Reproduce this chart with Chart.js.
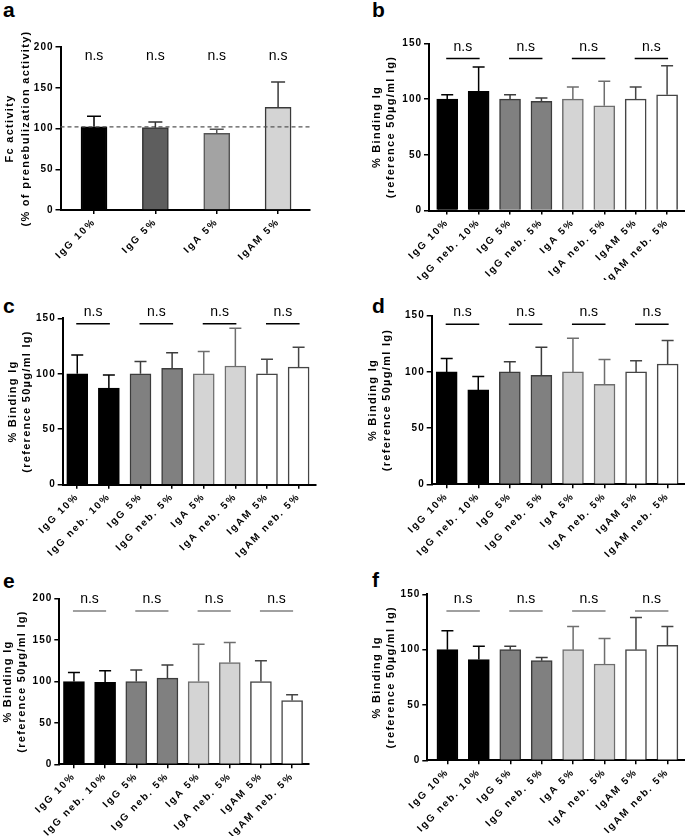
<!DOCTYPE html>
<html>
<head>
<meta charset="utf-8">
<script src="https://cdn.jsdelivr.net/npm/chart.js@4.4.1/dist/chart.umd.min.js"></script>
<style>
html, body { margin: 0; padding: 0; background: #fff; }
#page { position: relative; width: 685px; height: 836px; overflow: hidden; background: #fff; }
#page canvas { position: absolute; }
.lbl { position: absolute; font: bold 21px Arial, "Liberation Sans", sans-serif; line-height: 21px; color: #000; }
</style>
</head>
<body>
<div id="page">
  <div class="lbl" style="left:3px;top:-1px">a</div>
  <div class="lbl" style="left:372px;top:-1px">b</div>
  <div class="lbl" style="left:3px;top:295px">c</div>
  <div class="lbl" style="left:372px;top:295px">d</div>
  <div class="lbl" style="left:3px;top:570px">e</div>
  <div class="lbl" style="left:372px;top:569px">f</div>
</div>
<script>
// ---------------- DATA ----------------
const categoriesA = ['IgG 10%', 'IgG 5%', 'IgA 5%', 'IgAM 5%'];
const fcActivity = [102, 101, 94, 126];
const fcActivitySD = [13, 7, 5, 31];
const fcReference = 102;

const categoriesNeb = ['IgG 10%', 'IgG neb. 10%', 'IgG 5%', 'IgG neb. 5%',
                       'IgA 5%', 'IgA neb. 5%', 'IgAM 5%', 'IgAM neb. 5%'];
const bindingB = [100, 107, 100, 98, 100, 94, 100, 104];
const bindingBSD = [4, 22, 4, 3, 11, 22, 11, 26];
const bindingC = [100, 87, 100, 105, 100, 107, 100, 106];
const bindingCSD = [17, 12, 11, 14, 20, 34, 13, 18];
const bindingD = [100, 84, 100, 97, 100, 89, 100, 107];
const bindingDSD = [12, 12, 9, 25, 30, 22, 10, 21];
const bindingE = [100, 99, 100, 104, 100, 123, 100, 77];
const bindingESD = [11, 14, 14, 16, 45, 24, 25, 7];
const bindingF = [100, 91, 100, 90, 100, 87, 100, 104];
const bindingFSD = [17, 12, 3, 3, 21, 23, 29, 17];

const ticks150 = [0, 50, 100, 150];
const ticks200 = [0, 50, 100, 150, 200];
const yTitleA = ['Fc activity', '(% of prenebulization activity)'];
const yTitleBinding = ['% Binding Ig', '(reference 50µg/ml Ig)'];
const signifLabel = 'n.s';

// ---------------- STYLE ----------------
const FONT = 'Arial, "Liberation Sans", Helvetica, sans-serif';
const fillA = ['#000000', '#5e5e5e', '#a3a3a3', '#d4d4d4'];
const edgeA = ['#000000', '#333333', '#555555', '#3a3a3a'];
const fillNeb = ['#000000', '#000000', '#808080', '#808080', '#d4d4d4', '#d4d4d4', '#ffffff', '#ffffff'];
const edgeNeb = ['#000000', '#000000', '#3c3c3c', '#3c3c3c', '#6e6e6e', '#6e6e6e', '#454545', '#454545'];
const pairs4 = [[0], [1], [2], [3]];
const pairs8 = [[0, 1], [2, 3], [4, 5], [6, 7]];

const panels = [
  { id: 'a', box: [0, 0, 340, 280], axisX: 60.5, top: 47, bottom: 210, right: 310, xMin: -0.546, xMax: 3.52,
    yMax: 200, yTicks: ticks200, cats: categoriesA, values: fcActivity, sd: fcActivitySD, fill: fillA, edge: edgeA,
    barW: 26, cap: 14, title: yTitleA, titlePad: 2, titleLH: 1.45, nsLevel: 174, pairs: pairs4, bracketColor: null, refLine: fcReference },
  { id: 'b', box: [342, 0, 343, 280], axisX: 429, top: 43.5, bottom: 210.5, right: 685, xMin: -0.58, xMax: 7.57,
    yMax: 150, yTicks: ticks150, cats: categoriesNeb, values: bindingB, sd: bindingBSD, fill: fillNeb, edge: edgeNeb,
    barW: 21, cap: 12, title: yTitleBinding, titlePad: 28, titleLH: 1.3, nsLevel: 136.5, pairs: pairs8, bracketColor: '#000' },
  { id: 'c', box: [0, 280, 340, 280], axisX: 62.7, top: 318.3, bottom: 484.7, right: 316, xMin: -0.46, xMax: 7.55,
    yMax: 150, yTicks: ticks150, cats: categoriesNeb, values: bindingC, sd: bindingCSD, fill: fillNeb, edge: edgeNeb,
    barW: 21, cap: 12, title: yTitleBinding, titlePad: 6, titleLH: 1.3, nsLevel: 145, pairs: pairs8, bracketColor: '#000' },
  { id: 'd', box: [342, 280, 343, 280], axisX: 431.7, top: 315.7, bottom: 484.3, right: 685, xMin: -0.475, xMax: 7.55,
    yMax: 150, yTicks: ticks150, cats: categoriesNeb, values: bindingD, sd: bindingDSD, fill: fillNeb, edge: edgeNeb,
    barW: 21, cap: 12, title: yTitleBinding, titlePad: 24, titleLH: 1.3, nsLevel: 142.3, pairs: pairs8, bracketColor: '#000' },
  { id: 'e', box: [0, 560, 340, 276], axisX: 59.3, top: 598.7, bottom: 764.3, right: 308.3, xMin: -0.47, xMax: 7.52,
    yMax: 200, yTicks: ticks200, cats: categoriesNeb, values: bindingE, sd: bindingESD, fill: fillNeb, edge: edgeNeb,
    barW: 21, cap: 12, title: yTitleBinding, titlePad: 1, titleLH: 1.3, nsLevel: 185, pairs: pairs8, bracketColor: '#808080' },
  { id: 'f', box: [342, 560, 343, 276], axisX: 427.3, top: 594.3, bottom: 760.3, right: 685, xMin: -0.64, xMax: 7.56,
    yMax: 150, yTicks: ticks150, cats: categoriesNeb, values: bindingF, sd: bindingFSD, fill: fillNeb, edge: edgeNeb,
    barW: 21, cap: 12, title: yTitleBinding, titlePad: 28, titleLH: 1.3, nsLevel: 135, pairs: pairs8, bracketColor: '#808080' }
];

// letter spacing for axis texts (Prism-like spaced bold labels)
const spacingPlugin = {
  id: 'spacing',
  afterLayout(chart) {
    Object.values(chart.scales).forEach(s => {
      if (s._lsPatched) return;
      s._lsPatched = true;
      const dl = s.drawLabels.bind(s), dt = s.drawTitle.bind(s);
      const ls = s.axis === 'x' ? '1.8px' : '1px';
      s.drawLabels = (a) => { const c = chart.ctx; c.save(); c.letterSpacing = ls; dl(a); c.restore(); };
      s.drawTitle = (a) => { const c = chart.ctx; c.save(); c.letterSpacing = '1.3px'; dt(a); c.restore(); };
    });
  }
};

function extrasPlugin(p) {
  return {
    id: 'extras',
    afterDatasetsDraw(chart) {
      const ctx = chart.ctx, ys = chart.scales.y, ca = chart.chartArea;
      const bars = chart.getDatasetMeta(0).data;
      ctx.save();
      if (p.refLine != null) {
        const ry = ys.getPixelForValue(p.refLine);
        ctx.strokeStyle = '#555';
        ctx.lineWidth = 1.2;
        ctx.setLineDash([4, 3]);
        ctx.beginPath(); ctx.moveTo(ca.left, ry); ctx.lineTo(ca.right, ry); ctx.stroke();
        ctx.setLineDash([]);
      }
      bars.forEach((b, i) => {
        const topPx = ys.getPixelForValue(p.values[i] + p.sd[i]);
        ctx.strokeStyle = p.edge[i];
        ctx.lineWidth = 1.5;
        ctx.beginPath();
        ctx.moveTo(b.x, b.y); ctx.lineTo(b.x, topPx);
        ctx.moveTo(b.x - p.cap / 2, topPx); ctx.lineTo(b.x + p.cap / 2, topPx);
        ctx.stroke();
      });
      const ly = ys.getPixelForValue(p.nsLevel);
      ctx.font = '14px ' + FONT;
      ctx.fillStyle = '#000';
      ctx.textAlign = 'center';
      ctx.textBaseline = 'alphabetic';
      p.pairs.forEach(pr => {
        const x0 = bars[pr[0]].x, x1 = bars[pr[pr.length - 1]].x;
        if (pr.length > 1 && p.bracketColor) {
          ctx.strokeStyle = p.bracketColor;
          ctx.lineWidth = 1.5;
          ctx.beginPath(); ctx.moveTo(x0 - 1, ly); ctx.lineTo(x1 + 1, ly); ctx.stroke();
        }
        ctx.fillText(signifLabel, (x0 + x1) / 2, ly - 8);
      });
      ctx.restore();
    }
  };
}

const page = document.getElementById('page');
function makeChart(p) {
  const [L, T, W, H] = p.box;
  const cv = document.createElement('canvas');
  cv.width = W; cv.height = H;
  cv.style.left = L + 'px'; cv.style.top = T + 'px';
  cv.style.width = W + 'px'; cv.style.height = H + 'px';
  page.appendChild(cv);
  const yW = p.axisX - L, padTop = p.top - T, xH = T + H - p.bottom, padRight = L + W - p.right;
  const tickFont = { family: FONT, size: 10, weight: 'bold' };
  new Chart(cv, {
    type: 'bar',
    data: {
      datasets: [{
        data: p.values.map((v, i) => ({ x: i, y: v })),
        backgroundColor: p.fill,
        borderColor: p.edge,
        borderWidth: 1.5,
        barThickness: p.barW
      }]
    },
    options: {
      responsive: false,
      animation: false,
      devicePixelRatio: 1,
      layout: { padding: { left: 0, top: padTop, right: padRight, bottom: 0 } },
      plugins: { legend: { display: false }, tooltip: { enabled: false } },
      scales: {
        x: {
          type: 'linear', min: p.xMin, max: p.xMax, bounds: 'data', offset: false,
          afterBuildTicks: s => { s.ticks = p.cats.map((c, i) => ({ value: i })); },
          afterFit: s => { s.height = xH; },
          grid: { display: true, offset: false, drawOnChartArea: false, drawTicks: true, tickLength: 4, color: '#000', lineWidth: 1.5 },
          border: { display: true, color: '#000', width: 2 },
          ticks: { callback: (v) => p.cats[v], autoSkip: false, minRotation: 45, maxRotation: 45,
                   color: '#000', font: tickFont, padding: 2 }
        },
        y: {
          type: 'linear', min: 0, max: p.yMax, offset: false,
          afterBuildTicks: s => { s.ticks = p.yTicks.map(v => ({ value: v })); },
          afterFit: s => { s.width = yW; },
          grid: { display: true, offset: false, drawOnChartArea: false, drawTicks: true, tickLength: 5, color: '#000', lineWidth: 1.5 },
          border: { display: true, color: '#000', width: 2 },
          ticks: { color: '#000', font: tickFont, padding: 2 },
          title: { display: true, text: p.title, color: '#000',
                   font: { family: FONT, size: 11, weight: 'bold', lineHeight: p.titleLH },
                   padding: { top: p.titlePad, bottom: 0 } }
        }
      }
    },
    plugins: [spacingPlugin, extrasPlugin(p)]
  });
}
panels.forEach(makeChart);
</script>
</body>
</html>
